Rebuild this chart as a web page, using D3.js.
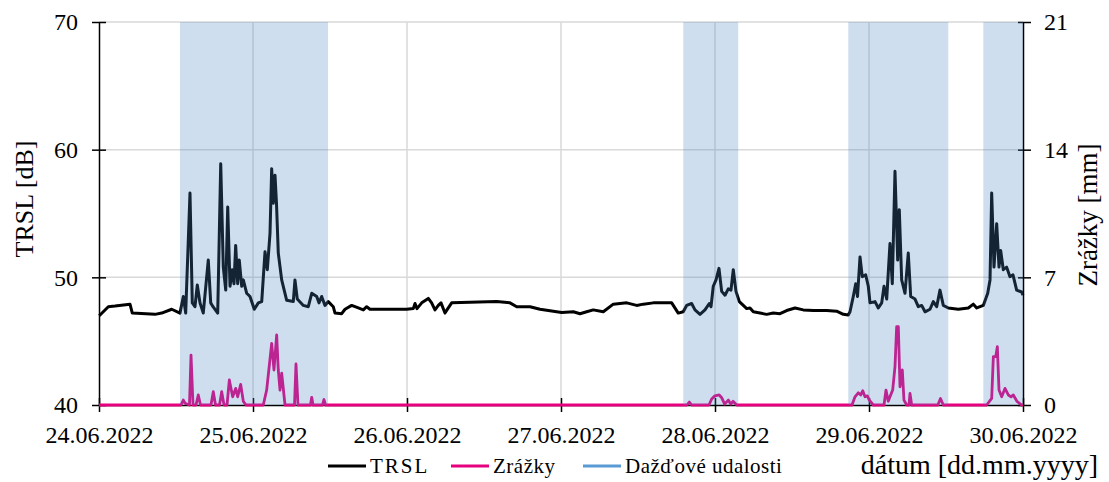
<!DOCTYPE html>
<html>
<head>
<meta charset="utf-8">
<script src="https://cdn.jsdelivr.net/npm/d3@7"></script>
<style>
body { margin: 0; background: #fff; }
</style>
</head>
<body>
<div id="chart"></div>
<script>
// hours since 24.06.2022 00:00, TRSL in dB
const trslPoints = [
  [0, 47.0], [0.16, 47.05], [1.45, 47.7], [2.49, 47.75], [4.83, 47.9], [5.19, 47.2], [8.73, 47.1], [9.77, 47.2],
  [11.33, 47.5], [12.62, 47.2], [13.14, 48.5], [13.51, 47.2], [14.18, 56.6], [14.54, 48.0], [14.96, 47.7], [15.32, 49.4],
  [15.74, 48.0], [16.25, 47.2], [17.03, 51.35], [17.41, 48.0], [17.77, 47.7], [18.5, 47.2], [18.97, 58.9], [19.37, 50.8],
  [19.75, 49.0], [20.06, 55.5], [20.42, 49.3], [20.77, 50.6], [21.04, 49.5], [21.3, 52.5], [21.61, 49.5], [21.86, 51.35],
  [22.24, 49.3], [22.49, 49.8], [23.02, 48.75], [23.53, 48.5], [24.2, 47.5], [24.83, 48.0], [25.36, 48.1], [25.87, 52.0],
  [26.23, 50.6], [26.65, 53.45], [26.91, 58.5], [27.16, 55.8], [27.43, 58.0], [27.66, 55.8], [27.94, 51.9], [28.47, 49.8],
  [29.25, 48.2], [30.28, 48.1], [30.54, 49.8], [30.9, 48.3], [31.84, 47.8], [32.62, 47.7], [33.15, 48.75], [33.93, 48.5],
  [34.28, 48.0], [34.7, 48.5], [35.22, 47.8], [35.73, 48.1], [36.51, 47.7], [36.78, 47.2], [37.82, 47.15], [38.34, 47.5],
  [39.38, 47.8], [40.41, 47.6], [41.19, 47.45], [41.72, 47.7], [42.23, 47.5], [44.84, 47.5], [47.95, 47.5], [48.98, 47.55],
  [49.25, 47.95], [49.56, 47.55], [50.29, 48.0], [51.32, 48.35], [51.84, 48.0], [52.36, 47.45], [52.88, 47.8], [53.3, 48.0],
  [53.92, 47.2], [54.23, 47.45], [54.96, 48.0], [57.82, 48.05], [61.98, 48.1], [64.05, 48.0], [65.1, 47.7], [67.17, 47.7],
  [68.73, 47.5], [70.8, 47.35], [72.11, 47.25], [73.92, 47.3], [74.96, 47.15], [76.0, 47.3], [77.03, 47.45], [78.59, 47.3],
  [80.15, 47.9], [82.24, 48.0], [83.79, 47.8], [84.82, 47.9], [86.38, 48.0], [88.47, 48.0], [89.25, 48.0], [90.27, 47.2],
  [91.05, 47.3], [91.58, 47.8], [92.36, 47.95], [92.88, 47.45], [93.66, 47.1], [94.44, 47.45], [95.11, 47.95], [95.38, 47.7],
  [95.73, 49.3], [96.16, 49.8], [96.62, 50.7], [97.04, 48.9], [97.56, 48.6], [98.07, 49.1], [98.49, 49.0], [98.85, 50.6],
  [99.27, 48.9], [99.79, 48.1], [100.41, 47.8], [100.94, 47.55], [101.45, 47.6], [101.97, 47.3], [103.01, 47.2], [104.06, 47.1],
  [105.08, 47.2], [106.13, 47.15], [107.17, 47.4], [108.47, 47.6], [109.76, 47.45], [111.32, 47.4], [113.4, 47.4], [114.96, 47.35],
  [115.99, 47.1], [116.77, 47.05], [117.04, 47.3], [117.55, 48.5], [117.93, 49.5], [118.21, 48.5], [118.6, 51.6], [118.95, 50.05],
  [119.48, 50.2], [119.89, 49.3], [120.16, 48.0], [120.94, 48.1], [121.45, 47.6], [121.98, 48.0], [122.34, 49.3], [122.76, 48.3],
  [123.27, 52.65], [123.63, 49.5], [124.05, 58.3], [124.47, 51.35], [124.72, 55.3], [125.09, 49.8], [125.61, 48.75], [126.12, 51.9],
  [126.5, 48.5], [127.17, 48.3], [127.68, 47.7], [128.21, 47.8], [128.73, 47.3], [129.51, 47.5], [130.02, 48.1], [130.55, 47.7],
  [131.06, 49.0], [131.58, 47.8], [132.36, 47.6], [133.92, 47.5], [135.48, 47.6], [136.26, 47.9], [136.79, 47.6], [137.82, 47.8],
  [138.5, 48.75], [138.86, 49.8], [139.12, 56.6], [139.48, 50.8], [139.9, 54.2], [140.26, 50.8], [140.52, 52.1], [140.93, 50.6],
  [141.45, 50.8], [141.97, 50.05], [142.44, 50.2], [143.01, 49.0], [143.79, 48.85], [144, 48.6]
];

// hours since 24.06.2022 00:00, precipitation in mm
const rainPoints = [
  [0, 0], [12.78, 0], [13.14, 0.27], [13.4, 0.1], [14.1, 0], [14.34, 2.74], [14.65, 0], [15.12, 0], [15.47, 0.55], [15.82, 0],
  [17.45, 0], [17.81, 0.73], [18.16, 0], [18.78, 0], [19.12, 0.73], [19.48, 0], [19.95, 0], [20.31, 1.37], [20.83, 0.45], [21.3, 0.91],
  [21.61, 0.45], [22.08, 1.13], [22.49, 0.2], [22.91, 0], [25.6, 0], [26.13, 0.82], [26.91, 3.38], [27.27, 1.92], [27.69, 3.84], [27.94, 1.92],
  [28.21, 0.82], [28.47, 1.74], [28.99, 0], [30.47, 0], [30.7, 2.25], [31.01, 0], [32.96, 0], [33.15, 0.42], [33.35, 0], [34.83, 0],
  [35.06, 0.3], [35.3, 0], [91.64, 0], [92.0, 0.16], [92.36, 0], [95.06, 0], [95.48, 0.33], [95.99, 0.5], [96.66, 0.55], [97.04, 0.4],
  [97.5, 0.05], [98.07, 0.27], [98.44, 0.05], [98.81, 0.2], [99.38, 0], [117.35, 0], [117.82, 0.45], [118.33, 0.67], [118.71, 0.55], [119.02, 0.78],
  [119.38, 0.45], [119.74, 0.5], [120.05, 0.27], [120.67, 0], [122.34, 0], [122.65, 0.82], [123.0, 0.2], [123.27, 0.45], [123.69, 0.82], [124.05, 2.1],
  [124.31, 4.29], [124.57, 4.29], [124.83, 1.0], [125.19, 1.92], [125.45, 0.27], [125.87, 0], [126.23, 0], [126.39, 0.64], [126.65, 0], [130.73, 0],
  [131.14, 0.36], [131.58, 0], [138.34, 0], [139.12, 0.36], [139.38, 2.65], [139.75, 2.65], [140.0, 3.2], [140.26, 0.82], [140.68, 0.45], [141.19, 0.91],
  [141.71, 0.55], [142.13, 0.45], [142.49, 0.55], [143.06, 0.2], [143.79, 0], [144, 0]
];

// rain events (hours since start)
const eventStart = [12.62, 91.05, 116.77, 137.82];
const eventEnd = [35.69, 99.62, 132.36, 144];

const dateTicks = ["2022-06-24", "2022-06-25", "2022-06-26", "2022-06-27", "2022-06-28", "2022-06-29", "2022-06-30"];
const trslTicks = [40, 50, 60, 70];
const rainTicks = [0, 7, 14, 21];

const legendNames = ["TRSL", "Zrážky", "Dažďové udalosti"];
const legendColors = ["#000000", "#e6007e", "#5b9bd5"];

const width = 1109, height = 482;
const margin = {top: 22, right: 86, bottom: 77, left: 99};
const start = new Date(2022, 5, 24);
const serif = '"Liberation Serif", "Times New Roman", serif';

function toDate(h) {
    return new Date(start.getTime() + h * 3600 * 1000);
}
function parseDay(s) {
    const p = s.split("-");
    return new Date(+p[0], +p[1] - 1, +p[2]);
}

const svg = d3.select("#chart")
    .append("svg")
    .attr("width", width)
    .attr("height", height)
    .attr("font-family", serif);

const x = d3.scaleTime()
    .domain([parseDay(dateTicks[0]), parseDay(dateTicks[dateTicks.length - 1])])
    .range([margin.left, width - margin.right]);
const yL = d3.scaleLinear().domain([40, 70]).range([height - margin.bottom, margin.top]);
const yR = d3.scaleLinear().domain([0, 21]).range([height - margin.bottom, margin.top]);

// grid
svg.append("g")
    .selectAll("line")
    .data(trslTicks.slice(1))
    .join("line")
    .attr("x1", margin.left).attr("x2", width - margin.right)
    .attr("y1", d => yL(d)).attr("y2", d => yL(d))
    .attr("stroke", "#d9d9d9").attr("stroke-width", 1.5);
svg.append("g")
    .selectAll("line")
    .data(dateTicks.slice(1, -1))
    .join("line")
    .attr("x1", d => x(parseDay(d))).attr("x2", d => x(parseDay(d)))
    .attr("y1", margin.top).attr("y2", height - margin.bottom)
    .attr("stroke", "#d9d9d9").attr("stroke-width", 1.5);

// axes
const xAxis = svg.append("g")
    .attr("transform", "translate(0," + (height - margin.bottom) + ")")
    .call(d3.axisBottom(x).tickValues(dateTicks.map(parseDay)).tickFormat(d3.timeFormat("%d.%m.%Y")).tickSize(7).tickSizeOuter(0).tickPadding(9));
xAxis.selectAll(".tick line").attr("y1", -7);

const leftAxis = svg.append("g")
    .attr("transform", "translate(" + margin.left + ",0)")
    .call(d3.axisLeft(yL).tickValues(trslTicks).tickSize(7).tickSizeOuter(0).tickPadding(14));
leftAxis.selectAll(".tick line").attr("x1", 7);

const rightAxis = svg.append("g")
    .attr("transform", "translate(" + (width - margin.right) + ",0)")
    .call(d3.axisRight(yR).tickValues(rainTicks).tickSize(8).tickSizeOuter(0).tickPadding(13));
rightAxis.selectAll(".tick line").attr("x1", -5);

[xAxis, leftAxis, rightAxis].forEach(g => {
    g.attr("font-family", serif).attr("font-size", 24);
    g.selectAll("path, line").attr("stroke", "#000").attr("stroke-width", 1.5);
    g.selectAll("text").attr("fill", "#000");
});
xAxis.selectAll("text").attr("dy", "0.9em");

// series
svg.append("path")
    .datum(rainPoints)
    .attr("fill", "none")
    .attr("stroke", legendColors[1])
    .attr("stroke-width", 2.8)
    .attr("stroke-linejoin", "round")
    .attr("d", d3.line().x(d => x(toDate(d[0]))).y(d => yR(d[1])));

svg.append("path")
    .datum(trslPoints)
    .attr("fill", "none")
    .attr("stroke", legendColors[0])
    .attr("stroke-width", 3)
    .attr("stroke-linejoin", "round")
    .attr("d", d3.line().x(d => x(toDate(d[0]))).y(d => yL(d[1])));

// rain events drawn on top, translucent
svg.append("g")
    .selectAll("rect")
    .data(eventStart.map((s, i) => [s, eventEnd[i]]))
    .join("rect")
    .attr("x", d => x(toDate(d[0])))
    .attr("width", d => x(toDate(d[1])) - x(toDate(d[0])))
    .attr("y", yR(21))
    .attr("height", yR(0) - yR(21))
    .attr("fill", "#4a86c5")
    .attr("fill-opacity", 0.27);

// axis titles
svg.append("text")
    .attr("transform", "translate(33,199) rotate(-90)")
    .attr("text-anchor", "middle")
    .attr("font-size", 26)
    .text("TRSL [dB]");
svg.append("text")
    .attr("transform", "translate(1097,215) rotate(-90)")
    .attr("text-anchor", "middle")
    .attr("font-size", 27)
    .text("Zrážky [mm]");
svg.append("text")
    .attr("x", 1098).attr("y", 474)
    .attr("text-anchor", "end")
    .attr("font-size", 28)
    .text("dátum [dd.mm.yyyy]");

// legend
const legendX = [328, 451, 583];
const legend = svg.append("g")
    .selectAll("g")
    .data(legendNames)
    .join("g")
    .attr("transform", (d, i) => "translate(" + legendX[i] + ",466)");
legend.append("line")
    .attr("x1", 0).attr("x2", 38)
    .attr("stroke", (d, i) => legendColors[i])
    .attr("stroke-width", 3);
legend.append("text")
    .attr("x", 42).attr("y", 7)
    .attr("font-size", 21)
    .attr("letter-spacing", (d, i) => i === 0 ? 2 : 0.5)
    .text(d => d);
</script>
</body>
</html>
